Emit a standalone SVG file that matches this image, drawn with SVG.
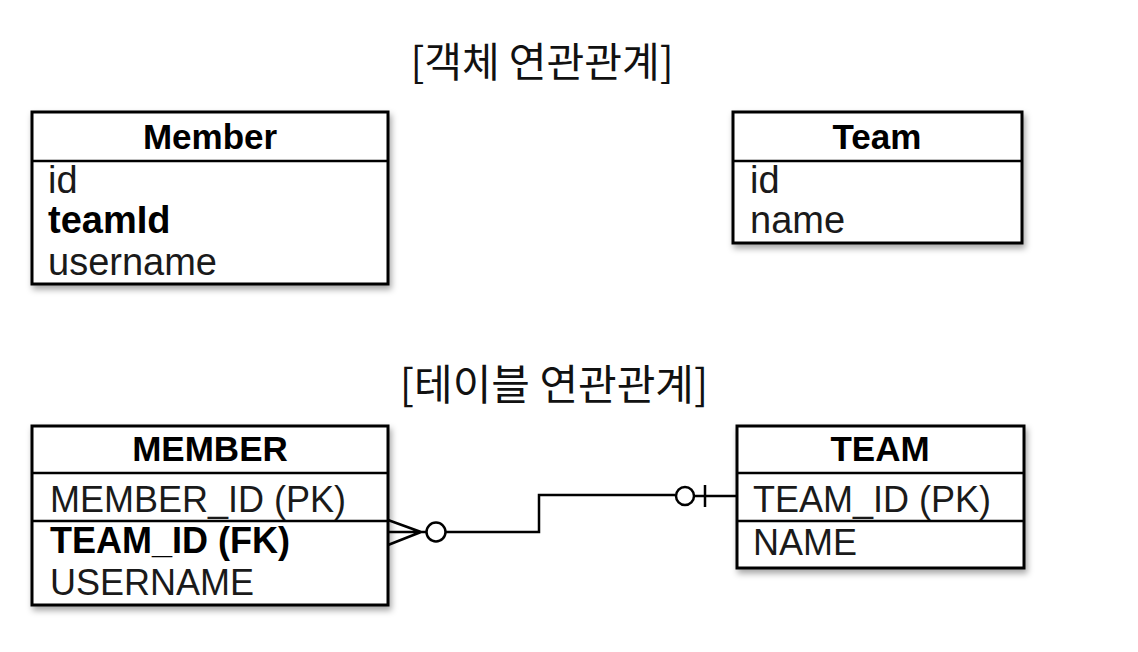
<svg xmlns="http://www.w3.org/2000/svg" width="1138" height="652" viewBox="0 0 1138 652">
<defs>
<filter id="sh" x="-10%" y="-10%" width="125%" height="130%">
<feDropShadow dx="2" dy="4" stdDeviation="3" flood-color="#000" flood-opacity="0.35"/>
</filter>
</defs>
<style>
.box{fill:#fff;stroke:#000;stroke-width:3;filter:url(#sh)}
.sep{stroke:#000;stroke-width:2.5}
.title{font-family:"Noto Sans CJK KR","Liberation Sans",sans-serif;font-size:41px;fill:#111;text-anchor:middle}
.hdr{font-family:"Liberation Sans",Arial,sans-serif;font-size:35px;font-weight:bold;fill:#000;text-anchor:middle}
.it{font-family:"Liberation Sans",Arial,sans-serif;font-size:38px;fill:#1a1a1a}
.tr{font-family:"Liberation Sans",Arial,sans-serif;font-size:36px;fill:#1a1a1a}
.b{font-weight:bold;fill:#000}
.ln{fill:none;stroke:#000;stroke-width:2.5}
</style>
<rect width="1138" height="652" fill="#fff"/>
<text class="title" x="542" y="77">[객체 연관관계]</text>
<text class="title" x="554" y="400" style="font-size:42px">[테이블 연관관계]</text>

<g id="obj-member">
<rect class="box" x="32" y="112" width="356" height="172"/>
<line class="sep" x1="32" y1="161" x2="388" y2="161"/>
<text class="hdr" x="210" y="149">Member</text>
<text class="it" x="48" y="193">id</text>
<text class="it b" x="48" y="233">teamId</text>
<text class="it" x="48" y="275">username</text>
</g>

<g id="obj-team">
<rect class="box" x="733" y="112" width="289" height="131"/>
<line class="sep" x1="733" y1="161" x2="1022" y2="161"/>
<text class="hdr" x="877" y="149">Team</text>
<text class="it" x="750" y="193">id</text>
<text class="it" x="750" y="233">name</text>
</g>

<g id="tbl-member">
<rect class="box" x="32" y="426" width="356" height="179"/>
<line class="sep" x1="32" y1="473" x2="388" y2="473"/>
<line class="sep" x1="32" y1="521" x2="388" y2="521"/>
<text class="hdr" x="210" y="461">MEMBER</text>
<text class="tr" x="50" y="512">MEMBER_ID (PK)</text>
<text class="tr b" x="50" y="553">TEAM_ID (FK)</text>
<text class="tr" x="50" y="595">USERNAME</text>
</g>

<g id="tbl-team">
<rect class="box" x="737" y="426" width="287" height="142"/>
<line class="sep" x1="737" y1="473" x2="1024" y2="473"/>
<line class="sep" x1="737" y1="521" x2="1024" y2="521"/>
<text class="hdr" x="880" y="461">TEAM</text>
<text class="tr" x="753" y="512">TEAM_ID (PK)</text>
<text class="tr" x="753" y="555">NAME</text>
</g>

<g id="connectors">
<path class="ln" d="M388 520 L421 532 M388 545 L421 532 M388 532 L426 532"/>
<circle class="ln" cx="436" cy="532" r="9.5"/>
<path class="ln" d="M446 532 L539 532 L539 495 L675 495"/>
<circle class="ln" cx="685" cy="496" r="9"/>
<path class="ln" d="M694 496 L737 496 M705 485 L705 507"/>
</g>
</svg>
